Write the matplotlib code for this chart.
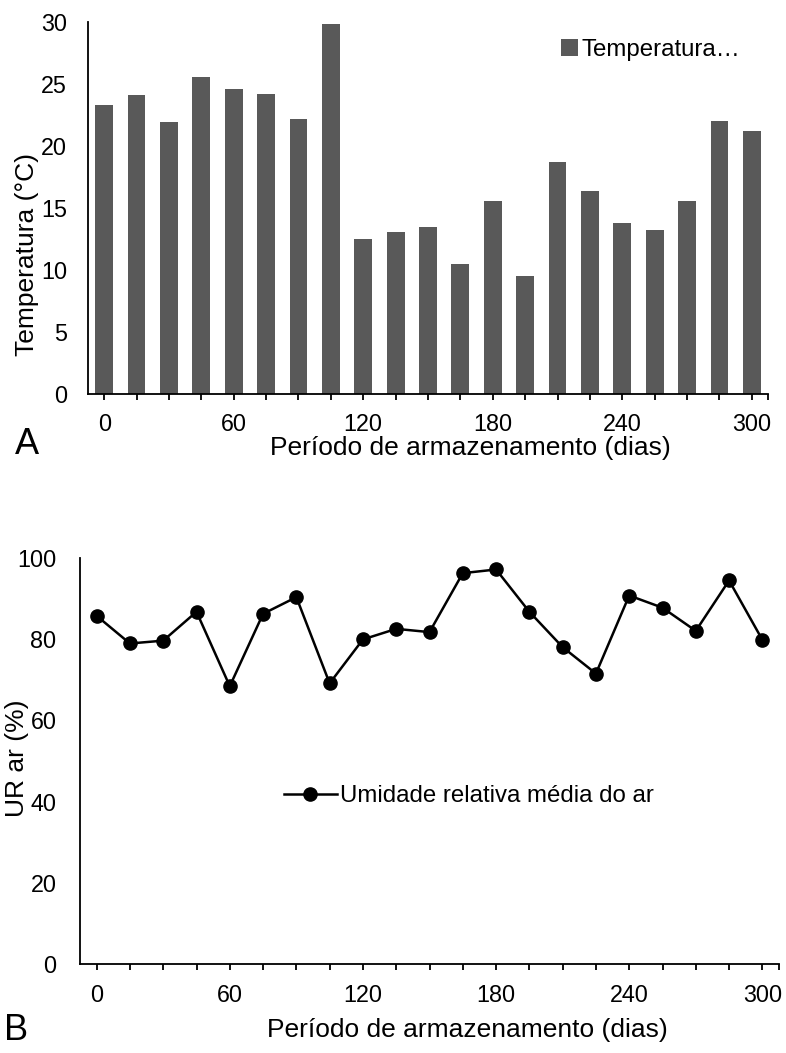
import matplotlib
matplotlib.use("Agg")
import matplotlib.pyplot as plt
import numpy as np

plt.rcParams['font.family'] = ['Liberation Sans', 'DejaVu Sans']

dias = [0, 15, 30, 45, 60, 75, 90, 105, 120, 135, 150, 165, 180, 195, 210, 225, 240, 255, 270, 285, 300]
temperatura = [23.3, 24.1, 21.9, 25.6, 24.6, 24.2, 22.2, 29.8, 12.5, 13.1, 13.5, 10.5, 15.6, 9.5,
               18.7, 16.4, 13.8, 13.2, 15.6, 22.0, 21.2]
umidade = [85.7, 78.9, 79.6, 86.7, 68.4, 86.2, 90.3, 69.1, 79.9, 82.5, 81.7, 96.2, 97.1, 86.7,
           78.0, 71.5, 90.7, 87.7, 82.0, 94.4, 79.8]
xtick_labels = ['0', '60', '120', '180', '240', '300']
y1_ticks = [0, 5, 10, 15, 20, 25, 30]
y2_ticks = [0, 20, 40, 60, 80, 100]

W, H = 786, 1053
fig = plt.figure(figsize=(W / 100, H / 100), dpi=100)

def fx(px):
    return px / W

def fy(py):
    return 1 - py / H

FS = 16.8     # tick labels
FL = 19.0     # axis labels
FG = 17.3     # legend
pos = np.arange(len(dias))
label_idx = [i for i, d in enumerate(dias) if str(d) in xtick_labels]

# --- Chart A ---
ax1 = fig.add_axes([fx(88), fy(394), fx(768) - fx(88), fy(22) - fy(394)])
ax1.bar(pos, temperatura, width=0.55, color='#595959', label='Temperatura\u2026')
ax1.set_xlim(-0.5, 20.5)
ax1.set_ylim(0, 30)
ax1.set_yticks(y1_ticks)
ax1.set_xticks(pos)
ax1.set_xticklabels([str(d) if i in label_idx else '' for i, d in enumerate(dias)])
ax1.set_xticks([20.5], minor=True)
for s in ['top', 'right']:
    ax1.spines[s].set_visible(False)
for s in ['left', 'bottom']:
    ax1.spines[s].set_linewidth(1.3)
ax1.tick_params(axis='y', length=0, pad=15, labelsize=FS)
ax1.tick_params(axis='x', which='both', direction='out', length=4, width=1.3, pad=10, labelsize=FS)
ax1.legend(loc='center left', bbox_to_anchor=(fx(561), fy(50)), bbox_transform=fig.transFigure,
           frameon=False, fontsize=FG, handlelength=0.7, handleheight=0.7, handletextpad=0.15,
           borderpad=0, borderaxespad=0)

fig.text(fx(27), fy(254), 'Temperatura (°C)', rotation=90, ha='center', va='center', fontsize=FL)
fig.text(fx(470), fy(448), 'Período de armazenamento (dias)', ha='center', va='center', fontsize=FL)
fig.text(fx(27), fy(444), 'A', ha='center', va='center', fontsize=26)

# --- Chart B ---
ax2 = fig.add_axes([fx(80), fy(964.3), fx(779) - fx(80), fy(557.7) - fy(964.3)])
ax2.plot(pos, umidade, color='black', linewidth=1.8, marker='o', markersize=9.5,
         label='Umidade relativa média do ar')
ax2.set_xlim(-0.5, 20.5)
ax2.set_ylim(0, 100)
ax2.set_yticks(y2_ticks)
ax2.set_xticks(pos)
ax2.set_xticklabels([str(d) if i in label_idx else '' for i, d in enumerate(dias)])
ax2.set_xticks([20.5], minor=True)
for s in ['top', 'right']:
    ax2.spines[s].set_visible(False)
for s in ['left', 'bottom']:
    ax2.spines[s].set_linewidth(1.3)
ax2.tick_params(axis='y', length=0, pad=17, labelsize=FS)
ax2.tick_params(axis='x', which='both', direction='out', length=4, width=1.3, pad=10, labelsize=FS)
ax2.legend(loc='center left', bbox_to_anchor=(fx(284), fy(796)), bbox_transform=fig.transFigure,
           frameon=False, fontsize=FG, handlelength=2.2, handletextpad=0.15,
           borderpad=0, borderaxespad=0)

fig.text(fx(17), fy(758), 'UR ar (%)', rotation=90, ha='center', va='center', fontsize=FL)
fig.text(fx(467), fy(1030), 'Período de armazenamento (dias)', ha='center', va='center', fontsize=FL)
fig.text(fx(16), fy(1031), 'B', ha='center', va='center', fontsize=26)

fig.savefig('out.png', dpi=100)
